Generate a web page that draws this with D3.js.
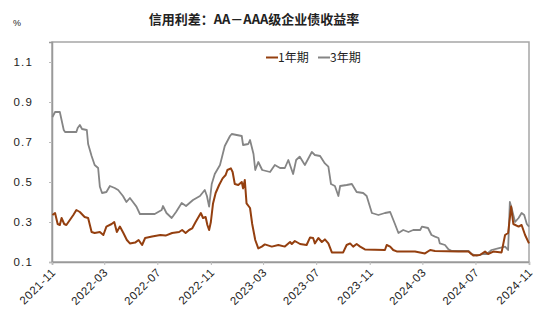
<!DOCTYPE html>
<html><head><meta charset="utf-8">
<script src="https://cdn.jsdelivr.net/npm/d3@7"></script>
<style>body{margin:0;background:#fff}svg{display:block}</style>
</head><body>
<svg id="c" width="550" height="336"></svg>
<script>
const title = "信用利差：AA－AAA级企业债收益率";
const seriesNames = ["1年期", "3年期"];
const yTicks = [0.1, 0.3, 0.5, 0.7, 0.9, 1.1];
const xTickLabels = ["2021-11","2022-03","2022-07","2022-11","2023-03","2023-07","2023-11","2024-03","2024-07","2024-11"];

const dates1 = ["2021-11-02","2021-11-08","2021-11-14","2021-11-19","2021-11-23","2021-11-29","2021-12-04","2021-12-12","2021-12-20","2021-12-27","2022-01-04","2022-01-15","2022-01-23","2022-01-31","2022-02-07","2022-02-19","2022-02-27","2022-03-06","2022-03-18","2022-03-24","2022-03-30","2022-04-06","2022-04-14","2022-04-22","2022-04-29","2022-05-11","2022-05-19","2022-05-27","2022-06-03","2022-06-19","2022-07-08","2022-07-20","2022-08-04","2022-08-20","2022-08-27","2022-09-04","2022-09-12","2022-09-19","2022-09-27","2022-10-05","2022-10-09","2022-10-14","2022-10-20","2022-10-24","2022-10-28","2022-11-01","2022-11-06","2022-11-12","2022-11-20","2022-11-28","2022-12-05","2022-12-09","2022-12-17","2022-12-21","2022-12-26","2023-01-03","2023-01-11","2023-01-14","2023-01-18","2023-01-22","2023-01-30","2023-02-04","2023-02-11","2023-02-18","2023-02-26","2023-03-05","2023-03-21","2023-04-05","2023-04-20","2023-05-02","2023-05-06","2023-05-13","2023-05-25","2023-06-09","2023-06-17","2023-06-24","2023-06-28","2023-07-06","2023-07-14","2023-07-21","2023-07-29","2023-08-06","2023-09-01","2023-09-09","2023-09-17","2023-09-24","2023-10-02","2023-10-10","2023-10-21","2023-12-06","2023-12-10","2023-12-18","2023-12-25","2024-01-02","2024-02-13","2024-03-07","2024-03-19","2024-03-30","2024-05-23","2024-06-15","2024-06-26","2024-07-11","2024-07-23","2024-07-30","2024-08-11","2024-08-30","2024-09-07","2024-09-14","2024-09-21","2024-09-26","2024-10-08","2024-10-15","2024-10-23","2024-11-01"];
const values1 = [0.335,0.345,0.29,0.285,0.32,0.29,0.285,0.31,0.335,0.36,0.35,0.325,0.32,0.25,0.245,0.25,0.235,0.277,0.29,0.30,0.25,0.277,0.245,0.21,0.193,0.197,0.21,0.185,0.22,0.227,0.235,0.232,0.245,0.25,0.26,0.245,0.26,0.268,0.30,0.33,0.345,0.32,0.325,0.285,0.26,0.30,0.393,0.445,0.485,0.518,0.535,0.56,0.568,0.55,0.49,0.485,0.50,0.468,0.51,0.393,0.37,0.29,0.21,0.168,0.177,0.188,0.177,0.185,0.177,0.20,0.19,0.205,0.19,0.185,0.223,0.22,0.193,0.22,0.20,0.213,0.193,0.148,0.148,0.185,0.193,0.177,0.19,0.177,0.163,0.16,0.185,0.177,0.16,0.153,0.153,0.143,0.16,0.155,0.153,0.152,0.132,0.135,0.152,0.14,0.152,0.148,0.235,0.245,0.377,0.29,0.277,0.285,0.235,0.193];

const dates3 = ["2021-11-02","2021-11-08","2021-11-19","2021-11-28","2021-12-01","2021-12-27","2021-12-30","2022-01-04","2022-01-09","2022-01-20","2022-01-23","2022-01-31","2022-02-07","2022-02-15","2022-02-19","2022-02-24","2022-03-06","2022-03-14","2022-03-25","2022-04-02","2022-04-13","2022-04-21","2022-04-29","2022-05-06","2022-05-14","2022-05-22","2022-06-25","2022-07-11","2022-07-14","2022-07-22","2022-08-03","2022-08-13","2022-08-26","2022-09-05","2022-09-21","2022-10-07","2022-10-18","2022-10-23","2022-10-28","2022-11-03","2022-11-10","2022-11-22","2022-12-03","2022-12-15","2022-12-19","2023-01-11","2023-01-14","2023-01-26","2023-01-30","2023-02-07","2023-02-11","2023-02-18","2023-02-27","2023-03-17","2023-03-28","2023-04-09","2023-04-20","2023-04-28","2023-05-09","2023-05-16","2023-05-24","2023-06-05","2023-06-21","2023-06-28","2023-07-10","2023-07-21","2023-07-29","2023-08-04","2023-08-13","2023-08-21","2023-08-25","2023-09-09","2023-09-21","2023-10-02","2023-10-17","2023-10-25","2023-11-06","2023-11-21","2023-12-06","2023-12-18","2023-12-29","2024-01-06","2024-01-17","2024-01-29","2024-02-09","2024-02-25","2024-02-29","2024-03-14","2024-03-22","2024-03-30","2024-04-07","2024-04-10","2024-04-22","2024-04-30","2024-05-08","2024-06-15","2024-06-22","2024-07-04","2024-07-19","2024-07-27","2024-08-07","2024-08-22","2024-09-07","2024-09-14","2024-09-18","2024-09-22","2024-09-30","2024-10-08","2024-10-15","2024-10-21","2024-10-27","2024-11-01"];
const values3 = [0.825,0.85,0.85,0.76,0.75,0.75,0.77,0.785,0.765,0.76,0.69,0.63,0.585,0.57,0.476,0.445,0.45,0.48,0.47,0.46,0.43,0.40,0.42,0.40,0.377,0.34,0.34,0.36,0.38,0.345,0.32,0.35,0.395,0.38,0.41,0.43,0.46,0.43,0.377,0.49,0.54,0.585,0.68,0.73,0.74,0.73,0.685,0.69,0.71,0.64,0.56,0.60,0.56,0.55,0.585,0.57,0.57,0.61,0.54,0.61,0.627,0.585,0.65,0.635,0.63,0.593,0.577,0.49,0.48,0.43,0.48,0.485,0.49,0.45,0.445,0.43,0.345,0.335,0.345,0.35,0.29,0.245,0.26,0.25,0.26,0.26,0.277,0.27,0.235,0.227,0.22,0.193,0.185,0.163,0.155,0.155,0.14,0.132,0.14,0.14,0.16,0.168,0.177,0.16,0.40,0.37,0.30,0.32,0.345,0.335,0.29,0.277];

const colors = ["#943f0f", "#858585"];
const parse = d3.timeParse("%Y-%m-%d");
const svg = d3.select("#c");
const L = 52, R = 529, T = 42, B = 262;

const x = d3.scaleTime().domain([parse("2021-11-01"), parse("2024-11-01")]).range([L, R]);
const y = d3.scaleLinear().domain([0.1, 1.2]).range([B, T]);

svg.append("text").attr("x", 254).attr("y", 24).attr("text-anchor", "middle")
  .attr("font-family", "'Noto Sans CJK SC', sans-serif").attr("font-weight", "bold")
  .attr("font-size", 13).attr("fill", "#222").text(title);
svg.append("text").attr("x", 13).attr("y", 26).attr("font-family", "Arial, 'Liberation Sans', sans-serif")
  .attr("font-size", 9).attr("fill", "#222").text("%");

// frame
svg.append("rect").attr("x", L).attr("y", T).attr("width", R - L).attr("height", B - T)
  .attr("fill", "none").attr("stroke", "#a6a6a6").attr("stroke-width", 1.5);

// y axis
const yAxis = d3.axisLeft(y).tickValues(yTicks).tickSize(3).tickPadding(16)
  .tickFormat(d3.format(".1f"));
const gy = svg.append("g").attr("transform", `translate(${L},0)`).call(yAxis);
gy.select(".domain").attr("stroke", "#999").attr("stroke-width", 1.5);
gy.selectAll(".tick line").attr("stroke", "#bbb");
gy.selectAll("text").attr("font-family", "Arial, 'Liberation Sans', sans-serif")
  .attr("font-size", 11.5).attr("fill", "#222").attr("letter-spacing", 1.2);

// x axis
const xTickDates = xTickLabels.map(s => parse(s + "-01"));
const xAxis = d3.axisBottom(x).tickValues(xTickDates).tickSize(3)
  .tickFormat((d, i) => xTickLabels[i]);
const gx = svg.append("g").attr("transform", `translate(0,${B})`).call(xAxis);
gx.select(".domain").attr("stroke", "#999").attr("stroke-width", 1.5);
gx.selectAll(".tick line").attr("stroke", "#bbb");
gx.selectAll("text").attr("font-family", "Arial, 'Liberation Sans', sans-serif")
  .attr("font-size", 11.5).attr("fill", "#222").attr("letter-spacing", 0.6)
  .attr("text-anchor", "end").attr("dy", null).attr("y", 0).attr("x", 0)
  .attr("transform", "translate(4,11) rotate(-45)");

const line = d3.line().x(d => x(d[0])).y(d => y(d[1]));
const d1 = dates1.map((s, i) => [parse(s), values1[i]]);
const d3s = dates3.map((s, i) => [parse(s), values3[i]]);
svg.append("path").datum(d3s).attr("d", line).attr("fill", "none")
  .attr("stroke", colors[1]).attr("stroke-width", 1.8).attr("stroke-linejoin", "round");
svg.append("path").datum(d1).attr("d", line).attr("fill", "none")
  .attr("stroke", colors[0]).attr("stroke-width", 2).attr("stroke-linejoin", "round");

// legend
const lg = svg.append("g").attr("font-family", "'Noto Sans CJK SC', sans-serif").attr("font-size", 12).attr("fill", "#222");
const lx = [266, 318];
seriesNames.forEach((n, i) => {
  lg.append("line").attr("x1", lx[i]).attr("x2", lx[i] + 12).attr("y1", 57.5).attr("y2", 57.5)
    .attr("stroke", colors[i]).attr("stroke-width", 2);
  lg.append("text").attr("x", lx[i] + 12).attr("y", 62).text(n);
});
</script>
</body></html>
